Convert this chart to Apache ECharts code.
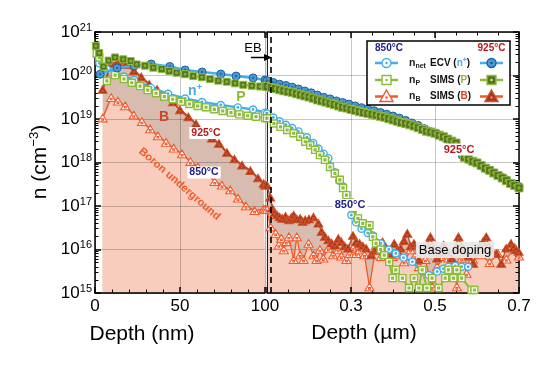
<!DOCTYPE html>
<html><head><meta charset="utf-8">
<script src="https://cdn.jsdelivr.net/npm/echarts@6/dist/echarts.min.js"></script>
<style>html,body{margin:0;padding:0;background:#fff}#c{width:554px;height:367px}</style>
</head><body><div id="c"></div>
<script>
const FONT = '"Liberation Sans", Arial, sans-serif';
const GRID_COLOR = 'rgba(0,0,0,0.22)';

// ---- axes ranges / ticks ----
const yMin = 1e15, yMax = 1e21;
const nmRange = [0, 100];
const umRange = [0.1, 0.7];
const umTickLabels = ['0.3', '0.5', '0.7'];
const ebDepthUm = 0.114;

// ---- data: [depth, n (cm^-3)]; left panel in nm, right panel in µm ----
const ecv850Nm = [[2.5,1.9e20],[7,1.4e20],[17,9.5e19],[23,7.9e19],[33,5.2e19],[43,3.8e19],[53,2.95e19],[63,2.45e19],[74,2.1e19],[84,1.85e19],[93,1.65e19],[100,1.4e19]];
const ecv850Um = [[0.100,1.35e19],[0.115,1.08e19],[0.130,8.9e18],[0.145,7.4e18],[0.160,6.2e18],[0.175,5.2e18],[0.195,3.8e18],[0.210,2.8e18],[0.2224,2.1e18],[0.235,1.6e18],[0.246,1.26e18],[0.2616,6.0e17],[0.272,3.8e17],[0.281,2.8e17],[0.289,1.8e17],[0.3007,6.2e16],[0.312,4.2e16],[0.325,3.0e16],[0.340,2.4e16],[0.352,2.1e16],[0.371,1.38e16],[0.390,1.0e16],[0.4066,8.1e15],[0.425,6.5e15],[0.446,5.2e15],[0.469,3.1e15],[0.485,2.6e15],[0.505,3.1e15],[0.520,3.6e15],[0.532,4.0e15],[0.548,4.2e15],[0.5635,4.0e15],[0.579,4.0e15]];

const ecv925Nm = [[3,1.07e20],[13,1.49e20],[23,1.65e20],[33,1.84e20],[44,1.61e20],[53,1.34e20],[63,1.2e20],[74,1.08e20],[83,9.7e19],[93,8.8e19],[100,7.9e19]];
const ecv925Um = [[0.100,7.6e19],[0.115,6.9e19],[0.130,6.3e19],[0.145,5.9e19],[0.160,5.4e19],[0.175,4.9e19],[0.190,4.4e19],[0.205,4.0e19],[0.220,3.55e19],[0.235,3.15e19],[0.250,2.9e19],[0.265,2.6e19],[0.280,2.4e19],[0.295,2.2e19],[0.310,2.0e19],[0.325,1.82e19],[0.340,1.7e19],[0.355,1.55e19],[0.370,1.41e19],[0.385,1.29e19],[0.400,1.17e19],[0.415,1.05e19],[0.430,9.3e18],[0.445,8.1e18],[0.460,7.1e18],[0.475,6.0e18],[0.490,5.1e18],[0.505,4.5e18],[0.520,3.8e18],[0.535,3.2e18],[0.550,2.7e18],[0.565,1.45e18],[0.580,1.17e18],[0.595,1.0e18],[0.610,8.3e17],[0.625,6.9e17],[0.640,5.75e17],[0.655,4.8e17],[0.670,4.0e17],[0.685,3.3e17],[0.700,2.8e17]];

const p850Nm = [[1,3.2e20],[2.5,2.6e20],[7,7.5e19],[11.8,1.02e20],[17,8.3e19],[21.6,6.8e19],[26.5,5.7e19],[31,4.6e19],[35.9,3.9e19],[40.8,3.26e19],[45.7,2.84e19],[50.6,2.5e19],[55.5,2.21e19],[60.4,1.99e19],[65.3,1.86e19],[70.2,1.67e19],[75.1,1.53e19],[80,1.4e19],[84.9,1.28e19],[89.8,1.19e19],[94.7,1.13e19],[100,1.05e19]];
const p850Um = [[0.100,1.04e19],[0.1165,7.9e18],[0.132,6.6e18],[0.148,5.6e18],[0.1635,4.7e18],[0.179,3.9e18],[0.191,3.0e18],[0.203,2.5e18],[0.2146,1.95e18],[0.226,1.48e18],[0.238,1.15e18],[0.250,7.9e17],[0.2616,5.6e17],[0.2734,4.0e17],[0.281,2.6e17],[0.289,1.78e17],[0.297,1.2e17],[0.3047,8.9e16],[0.3165,5.2e16],[0.328,4.0e16],[0.344,3.6e16],[0.352,1.95e16],[0.3595,1.38e16],[0.3706,1.0e16],[0.379,7.4e15],[0.391,5.2e15],[0.399,2.2e15],[0.4066,3.4e15],[0.4224,2.2e15],[0.438,1.3e15],[0.450,2.2e15],[0.4616,1.3e15],[0.4694,3.4e15],[0.481,1.3e15],[0.493,2.2e15],[0.5087,1.3e15],[0.5242,2.2e15],[0.532,3.4e15],[0.544,2.2e15],[0.552,3.4e15],[0.5635,2.2e15],[0.587,1.17e15],[0.594,1.17e15]];

const p925Nm = [[0.5,4.8e20],[2.5,3.3e20],[5,1.6e20],[8,2.2e20],[11.8,2.6e20],[16.6,2.35e20],[21,2.15e20],[24.5,1.8e20],[29.4,1.68e20],[34.3,1.51e20],[39.2,1.41e20],[43.7,1.27e20],[48,1.16e20],[53,1.07e20],[57.8,9.7e19],[62.8,9.1e19],[67.6,8.3e19],[72.5,7.6e19],[77.5,7.2e19],[82.4,6.6e19],[87.2,6.1e19],[92.2,5.8e19],[97,5.6e19],[100,5.6e19]];
const p925Um = [[0.10,5.6e19],[0.11,5.25e19],[0.12,5.0e19],[0.13,4.7e19],[0.14,4.45e19],[0.15,4.25e19],[0.16,4.1e19],[0.17,3.8e19],[0.18,3.6e19],[0.19,3.4e19],[0.20,3.2e19],[0.21,3.0e19],[0.22,2.75e19],[0.23,2.6e19],[0.24,2.45e19],[0.25,2.3e19],[0.26,2.15e19],[0.27,2.0e19],[0.28,1.86e19],[0.29,1.78e19],[0.30,1.66e19],[0.31,1.58e19],[0.32,1.48e19],[0.33,1.41e19],[0.34,1.35e19],[0.35,1.29e19],[0.36,1.23e19],[0.37,1.15e19],[0.38,1.1e19],[0.39,1.02e19],[0.40,9.5e18],[0.41,8.9e18],[0.42,8.3e18],[0.43,7.9e18],[0.44,7.4e18],[0.45,6.9e18],[0.46,6.3e18],[0.47,5.75e18],[0.48,5.25e18],[0.49,5.0e18],[0.50,4.7e18],[0.51,4.25e18],[0.52,3.9e18],[0.53,3.45e18],[0.54,3.1e18],[0.55,2.8e18],[0.56,2.0e18],[0.57,1.32e18],[0.58,1.2e18],[0.59,1.07e18],[0.60,9.8e17],[0.61,8.5e17],[0.62,7.4e17],[0.63,6.6e17],[0.64,5.75e17],[0.65,5.0e17],[0.66,4.4e17],[0.67,3.8e17],[0.68,3.3e17],[0.69,2.95e17],[0.70,2.6e17]];

const b850Nm = [[4.5,1.05e19],[9.5,3.1e19],[13.5,2.57e19],[17.8,2.0e19],[22.8,1.23e19],[27.6,8.7e18],[32.5,5.9e18],[37,4.1e18],[41.8,2.9e18],[46.3,2.14e18],[51.2,1.58e18],[56.1,1.05e18],[60.6,7.9e17],[65.3,6.0e17],[70.4,3.6e17],[74.7,3.0e17],[79.6,2.34e17],[84.1,1.51e17],[88.8,1.0e17],[93.9,7.8e16],[99.2,8.5e16],[100,8.3e16]];
const b850Um = [[0.100,8.3e16],[0.1087,3.3e16],[0.1205,2.35e16],[0.128,1.26e16],[0.134,1.8e16],[0.140,9.8e15],[0.146,1.5e16],[0.152,1.95e16],[0.1635,5.8e15],[0.171,1.95e16],[0.179,7.5e15],[0.187,5.8e15],[0.199,1.38e16],[0.2106,7.5e15],[0.218,5.8e15],[0.226,1.0e16],[0.234,6.3e15],[0.246,1.07e16],[0.2576,7.5e15],[0.2694,9.8e15],[0.277,7.0e15],[0.289,5.8e15],[0.297,8.0e15],[0.3047,1.07e16],[0.3125,8.0e15],[0.3205,9.8e15],[0.332,7.5e15],[0.344,1.38e15],[0.3595,1.26e16],[0.371,6.8e15],[0.383,1.07e16],[0.391,9.0e15],[0.399,6.8e15],[0.4146,7.5e15],[0.4264,5.2e15],[0.442,9.8e15],[0.452,7.0e15],[0.4616,4.0e15],[0.477,5.8e15],[0.493,1.38e15],[0.505,4.0e15],[0.5205,6.8e15],[0.532,6.3e15],[0.544,4.0e15],[0.552,1.38e15],[0.5635,6.3e15],[0.575,2.8e15],[0.590,6.0e15],[0.610,7.5e15],[0.630,5.0e15],[0.650,8.0e15],[0.670,6.0e15],[0.690,1.1e16],[0.700,7.0e15]];

const b925Nm = [[4.5,4.8e19],[9.4,1.9e20],[13.5,2.04e20],[18.2,1.78e20],[22.9,1.29e20],[27.2,9.3e19],[31.9,6.3e19],[36.5,4.8e19],[41.2,3.47e19],[45.9,2.45e19],[50,1.62e19],[54.9,1.12e19],[59.4,7.8e18],[64.1,5.1e18],[68.8,3.6e18],[72.9,2.75e18],[77.6,1.7e18],[82,1.2e18],[86.5,8.7e17],[91.4,6.5e17],[95.9,4.4e17],[99.2,3.3e17],[100,3.0e17]];
const b925Um = [[0.100,3.0e17],[0.1077,1.6e17],[0.1125,8.9e16],[0.118,7.0e16],[0.124,6.2e16],[0.130,5.6e16],[0.136,5.2e16],[0.144,5.8e16],[0.152,4.8e16],[0.158,5.5e16],[0.1635,6.2e16],[0.171,5.0e16],[0.179,5.2e16],[0.185,4.4e16],[0.191,4.8e16],[0.200,5.0e16],[0.2106,5.6e16],[0.2224,4.0e16],[0.230,2.6e16],[0.238,2.0e16],[0.246,1.65e16],[0.254,1.4e16],[0.2616,1.26e16],[0.270,1.8e16],[0.277,1.5e16],[0.285,1.2e16],[0.293,1.07e16],[0.3047,2.1e16],[0.3125,1.5e16],[0.3205,1.38e16],[0.328,1.2e16],[0.336,1.07e16],[0.348,7.5e15],[0.356,9.5e15],[0.3635,1.07e16],[0.375,1.5e16],[0.383,1.1e16],[0.391,8.1e15],[0.403,1.38e16],[0.410,9.5e15],[0.418,1.07e16],[0.426,1.6e16],[0.434,2.35e16],[0.442,1.2e16],[0.450,1.38e16],[0.4616,5.8e15],[0.474,1.07e16],[0.482,1.3e16],[0.489,1.95e16],[0.497,1.1e16],[0.505,6.3e15],[0.513,9.0e15],[0.5205,1.26e16],[0.530,9.0e15],[0.540,6.3e15],[0.548,1.1e16],[0.5558,1.95e16],[0.563,1.2e16],[0.571,9.8e15],[0.580,7.0e15],[0.591,4.8e15],[0.599,9.0e15],[0.6066,1.26e16],[0.614,1.5e16],[0.622,1.95e16],[0.628,1.2e16],[0.634,9.8e15],[0.646,8.1e15],[0.6576,4.8e15],[0.6694,1.07e16],[0.681,1.38e16],[0.687,1.1e16],[0.693,9.8e15],[0.699,9.0e15]];

// ---- styles ----
const C = {
  ecvLine:'#45aee8', ecv925Fill:'#4a9ad6', ecv925Edge:'#1f5f9a',
  pLine:'#8cbb3a', p925Fill:'#55761a', p925Edge:'#93bb44',
  b850:'#f2592a', b925Line:'#b8421f', b925Fill:'#a3371a', b925Edge:'#d0502a',
  salmon:'#f9cdbd', brown:'#d9bcb0', red:'#b3191e', navy:'#1c1c8e'
};
const SYM_C = 'path://M0,-10A10,10,0,1,1,0,10A10,10,0,1,1,0,-10ZM0,-2.2A2.2,2.2,0,1,1,0,2.2A2.2,2.2,0,1,1,0,-2.2Z';
const SYM_S = 'path://M-10,-10L10,-10L10,10L-10,10ZM-2.5,-2.5L2.5,-2.5L2.5,2.5L-2.5,2.5Z';
const SYM_T = 'path://M0,-11L10,8L-10,8ZM-2,0L2,0L2,4L-2,4Z';

function lineS(data, panel, sym, size, lineColor, lineWidth, fill, edge, edgeW, z) {
  return {
    type:'line', data, xAxisIndex: panel===0?0:2, yAxisIndex: panel===0?0:2,
    symbol: sym, symbolSize: size, symbolKeepAspect: true, showSymbol: true,
    lineStyle:{color:lineColor, width:lineWidth},
    itemStyle:{color:fill, borderColor:edge, borderWidth:edgeW},
    z: z, silent:true, animation:false
  };
}
function areaS(data, panel, color, z) {
  return {
    type:'line', data, xAxisIndex: panel===0?0:2, yAxisIndex: panel===0?0:2,
    symbol:'none', lineStyle:{width:0, opacity:0},
    areaStyle:{color, opacity:1, origin:'start'}, z: z, silent:true, animation:false
  };
}

const series = [
  areaS(b925Nm,0,C.brown,1), areaS(b925Um,1,C.brown,1),
  areaS(b850Nm,0,C.salmon,1.5), areaS(b850Um,1,C.salmon,1.5),
  lineS(b850Nm,0,SYM_T,[9,8],C.b850,1.5,'#fff',C.b850,1.1,3),
  lineS(b850Um,1,SYM_T,[9,8],C.b850,1.3,'#fff',C.b850,1.1,3),
  lineS(b925Nm,0,SYM_T,[9,8],C.b925Line,2,C.b925Fill,C.b925Edge,1,3.1),
  lineS(b925Um,1,SYM_T,[9,8],C.b925Line,1.3,C.b925Fill,C.b925Edge,1,3.1),
  lineS(ecv850Nm,0,SYM_C,7,C.ecvLine,2.5,'#fff',C.ecvLine,1.4,3.2),
  lineS(ecv850Um,1,SYM_C,7,C.ecvLine,2.5,'#fff',C.ecvLine,1.4,3.2),
  lineS(p850Nm,0,SYM_S,7,C.pLine,2,'#fff',C.pLine,1.4,3.3),
  lineS(p850Um,1,SYM_S,7,C.pLine,2,'#fff',C.pLine,1.4,3.3),
  lineS(ecv925Nm,0,SYM_C,8,C.ecvLine,2.5,C.ecv925Fill,C.ecv925Edge,1,3.4),
  lineS(ecv925Um,1,SYM_C,8,C.ecvLine,2.5,C.ecv925Fill,C.ecv925Edge,1,3.4),
  lineS(p925Nm,0,SYM_S,7,C.pLine,2,C.p925Fill,C.p925Edge,1,3.5),
  lineS(p925Um,1,SYM_S,8,C.pLine,2,C.p925Fill,C.p925Edge,1,3.5)
];
series[series.length-1].markLine = {
  silent:true, symbol:['none','none'], label:{show:false}, animation:false,
  lineStyle:{type:[6,4], color:'#000', width:1.6},
  data:[{xAxis: ebDepthUm}]
};

// ---- axes ----
const blackLine = {show:true, lineStyle:{color:'#000', width:1.5}};
const majTick = {show:true, inside:true, length:6, lineStyle:{color:'#000', width:1.5}};
const minTick = (n) => ({show:true, splitNumber:n, length:3.5, lineStyle:{color:'#000', width:1}});
const minorLogTicks = [];
for (let e = 15; e < 21; e++) for (let k = 2; k <= 9; k++) minorLogTicks.push(e + Math.log10(k));

const xAxis = [
  {gridIndex:0, type:'value', position:'bottom', min:nmRange[0], max:nmRange[1], interval:50,
   axisLine:blackLine, axisTick:majTick, minorTick:minTick(5),
   axisLabel:{fontSize:17, fontFamily:FONT, color:'#000', margin:5, showMinLabel:true, showMaxLabel:true},
   splitLine:{show:true, lineStyle:{color:GRID_COLOR, width:1}}, z:2},
  {gridIndex:0, type:'value', position:'top', min:nmRange[0], max:nmRange[1], interval:50,
   axisLine:blackLine, axisTick:majTick, minorTick:minTick(5), axisLabel:{show:false}, splitLine:{show:false}, z:2},
  {gridIndex:1, type:'value', position:'bottom', min:umRange[0], max:umRange[1], interval:0.2,
   axisLine:blackLine, axisTick:majTick, minorTick:minTick(4),
   axisLabel:{fontSize:17, fontFamily:FONT, color:'#000', margin:5, showMinLabel:true, showMaxLabel:true,
     formatter:(v)=>{const s=v.toFixed(1); return umTickLabels.indexOf(s)>=0 ? s : '';}},
   splitLine:{show:true, lineStyle:{color:GRID_COLOR, width:1}}, z:2},
  {gridIndex:1, type:'value', position:'top', min:umRange[0], max:umRange[1], interval:0.2,
   axisLine:blackLine, axisTick:majTick, minorTick:minTick(4), axisLabel:{show:false}, splitLine:{show:false}, z:2}
];

const logBase = {type:'log', logBase:10, min:yMin, max:yMax, splitNumber:6};
const yAxis = [
  Object.assign({}, logBase, {gridIndex:0, position:'left', axisLine:blackLine, axisTick:majTick,
    axisLabel:{margin:3, formatter:(v)=>'{a|10}{b|'+Math.round(Math.log10(v))+'}',
      rich:{a:{fontSize:17, fontFamily:FONT, color:'#000', lineHeight:20},
            b:{fontSize:11, fontFamily:FONT, color:'#000', verticalAlign:'top', lineHeight:11}}},
    splitLine:{show:true, lineStyle:{color:GRID_COLOR, width:1}}, z:2}),
  Object.assign({}, logBase, {gridIndex:0, position:'right', axisLine:{show:true, lineStyle:{color:'#222', width:1}},
    axisTick:{show:false}, axisLabel:{show:false}, splitLine:{show:false}, z:2}),
  Object.assign({}, logBase, {gridIndex:1, position:'left', axisLine:{show:true, lineStyle:{color:'#222', width:1}},
    axisTick:{show:false}, axisLabel:{show:false}, splitLine:{show:true, lineStyle:{color:GRID_COLOR, width:1}}, z:2}),
  Object.assign({}, logBase, {gridIndex:1, position:'right', axisLine:blackLine, axisTick:majTick,
    axisLabel:{show:false}, splitLine:{show:false}, z:2}),
  {gridIndex:0, type:'value', position:'left', min:15, max:21, axisLine:{show:false}, axisLabel:{show:false},
   splitLine:{show:false}, axisTick:{show:true, inside:true, length:3.5, customValues:minorLogTicks, lineStyle:{color:'#000', width:1}}, z:2},
  {gridIndex:1, type:'value', position:'right', min:15, max:21, axisLine:{show:false}, axisLabel:{show:false},
   splitLine:{show:false}, axisTick:{show:true, inside:true, length:3.5, customValues:minorLogTicks, lineStyle:{color:'#000', width:1}}, z:2}
];

// ---- annotations ----
const Z = 20;
function txt(x, y, text, o) {
  o = o || {};
  return {type:'text', x:x, y:y, rotation:o.rot||0, z:o.z||Z, silent:true,
    style:Object.assign({text:text, align:'center', verticalAlign:'middle', fontFamily:FONT,
      fontSize:o.size||12, fontWeight:o.weight||'normal', fill:o.color||'#000'}, o.style||{})};
}
const tagBox = {backgroundColor:'#fff', padding:[1,2,0,2]};
const graphics = [
  txt(142, 334, 'Depth (nm)', {size:21}),
  txt(364, 333, 'Depth (µm)', {size:21}),
  txt(40, 162, '{a|n (cm}{b|−3}{a|)}', {rot:Math.PI/2, style:{rich:{
    a:{fontSize:21, fontFamily:FONT, fill:'#000', lineHeight:24},
    b:{fontSize:13, fontFamily:FONT, fill:'#000', verticalAlign:'top', lineHeight:13}}}}),
  txt(195, 91, '{n|n}{s|+}', {style:{rich:{n:{fontSize:14, fontWeight:'bold', fontFamily:FONT, fill:C.ecvLine, lineHeight:15},
    s:{fontSize:9, fontWeight:'bold', fontFamily:FONT, fill:C.ecvLine, verticalAlign:'top', lineHeight:9}}}}),
  txt(241, 97, 'P', {size:14, weight:'bold', color:C.pLine}),
  txt(164, 117, 'B', {size:14, weight:'bold', color:'#c8462a'}),
  txt(206, 133, '925°C', {size:10.5, weight:'bold', color:C.red, style:tagBox}),
  txt(204, 172.5, '850°C', {size:10.5, weight:'bold', color:C.navy, style:tagBox}),
  txt(350, 205, '850°C', {size:11, weight:'bold', color:C.navy, style:tagBox}),
  txt(459, 149.5, '925°C', {size:11, weight:'bold', color:C.red, style:tagBox}),
  txt(179.5, 184, 'Boron underground', {size:11, weight:'bold', color:C.b850, rot:-41*Math.PI/180}),
  txt(455, 250, 'Base doping', {size:13, style:{backgroundColor:'rgba(232,232,232,0.92)', padding:[2,3,1,3]}}),
  txt(253, 48, 'EB', {size:13}),
  {type:'line', shape:{x1:251, y1:57.5, x2:266, y2:57.5}, style:{stroke:'#000', lineWidth:1.5}, z:Z, silent:true},
  {type:'polygon', shape:{points:[[272,57.5],[264,54],[264,61]]}, style:{fill:'#000'}, z:Z, silent:true},
  {type:'rect', shape:{x:265.5, y:32, width:1, height:261}, style:{fill:'rgba(0,0,0,0.18)'}, z:Z-1, silent:true},
  // legend box
  {type:'rect', shape:{x:367, y:41, width:143, height:64}, style:{fill:'#fff', stroke:'#000', lineWidth:1.5}, z:Z, silent:true},
  txt(389, 48.5, '850°C', {size:10, weight:'bold', color:C.navy, z:Z+1}),
  txt(491.5, 48.5, '925°C', {size:10, weight:'bold', color:C.red, z:Z+1})
];
function legMarker(kind, cx, cy, lineColor, fill, stroke, dot) {
  const els = [{type:'line', shape:{x1:cx-11.5, y1:cy, x2:cx+11.5, y2:cy}, style:{stroke:lineColor, lineWidth:2.5}, z:Z+1, silent:true}];
  if (kind === 'c') els.push({type:'circle', shape:{cx:cx, cy:cy, r:4.5}, style:{fill:fill, stroke:stroke, lineWidth:1.4}, z:Z+2, silent:true});
  if (kind === 's') els.push({type:'rect', shape:{x:cx-4.5, y:cy-4.5, width:9, height:9}, style:{fill:fill, stroke:stroke, lineWidth:1.4}, z:Z+2, silent:true});
  if (kind === 't') els.push({type:'polygon', shape:{points:[[cx, cy-6.5],[cx+6.5, cy+5],[cx-6.5, cy+5]]}, style:{fill:fill, stroke:stroke, lineWidth:1.4}, z:Z+2, silent:true});
  els.push({type:'circle', shape:{cx:cx, cy:kind==='t'?cy+1:cy, r:1.2}, style:{fill:dot}, z:Z+3, silent:true});
  return els;
}
const rows = [
  {y:63, k:'c', line:C.ecvLine, f850:'#fff', s850:C.ecvLine, d850:C.ecvLine, f925:C.ecv925Fill, s925:C.ecv925Edge, d925:'#1f4f80',
   sub:'net', name:'ECV', tag:'n', tagSup:'+', tagColor:C.ecvLine},
  {y:80, k:'s', line:C.pLine, f850:'#fff', s850:C.pLine, d850:C.pLine, f925:C.p925Fill, s925:C.p925Edge, d925:'#d8eaa8',
   sub:'P', name:'SIMS', tag:'P', tagSup:'', tagColor:C.pLine},
  {y:96.5, k:'t', line:C.b850, f850:'#fff', s850:C.b850, d850:C.b850, f925:C.b925Fill, s925:C.b925Edge, d925:'#f09070',
   sub:'B', name:'SIMS', tag:'B', tagSup:'', tagColor:'#e0401f'}
];
rows.forEach(r => {
  legMarker(r.k, 386.5, r.y, r.line, r.f850, r.s850, r.d850).forEach(e => graphics.push(e));
  legMarker(r.k, 491.5, r.y, r.line, r.f925, r.s925, r.d925).forEach(e => graphics.push(e));
  graphics.push({type:'text', x:409, y:r.y, z:Z+1, silent:true, style:{
    text:'{n|n}{s|'+r.sub+'}', align:'left', verticalAlign:'middle',
    rich:{n:{fontSize:10.5, fontWeight:'bold', fontFamily:FONT, fill:'#222', lineHeight:13},
          s:{fontSize:7, fontWeight:'bold', fontFamily:FONT, fill:'#222', verticalAlign:'bottom', lineHeight:9}}}});
  graphics.push({type:'text', x:430, y:r.y, z:Z+1, silent:true, style:{
    text:r.name+' ({c|'+r.tag+'}'+(r.tagSup?'{u|'+r.tagSup+'}':'')+')', align:'left', verticalAlign:'middle',
    fontSize:10, fontWeight:'bold', fontFamily:FONT, fill:'#111',
    rich:{c:{fontSize:10, fontWeight:'bold', fontFamily:FONT, fill:r.tagColor, lineHeight:12},
          u:{fontSize:7, fontWeight:'bold', fontFamily:FONT, fill:r.tagColor, verticalAlign:'top', lineHeight:8}}}});
});

const chart = echarts.init(document.getElementById('c'), null, {renderer:'canvas', width:554, height:367});
chart.setOption({
  animation:false,
  backgroundColor:'#fff',
  grid:[
    {left:95, top:32, width:170, height:261, containLabel:false, outerBoundsMode:'none'},
    {left:267, top:32, width:252, height:261, containLabel:false, outerBoundsMode:'none'}
  ],
  xAxis: xAxis,
  yAxis: yAxis,
  series: series,
  graphic: {elements: graphics}
});
</script></body></html>
